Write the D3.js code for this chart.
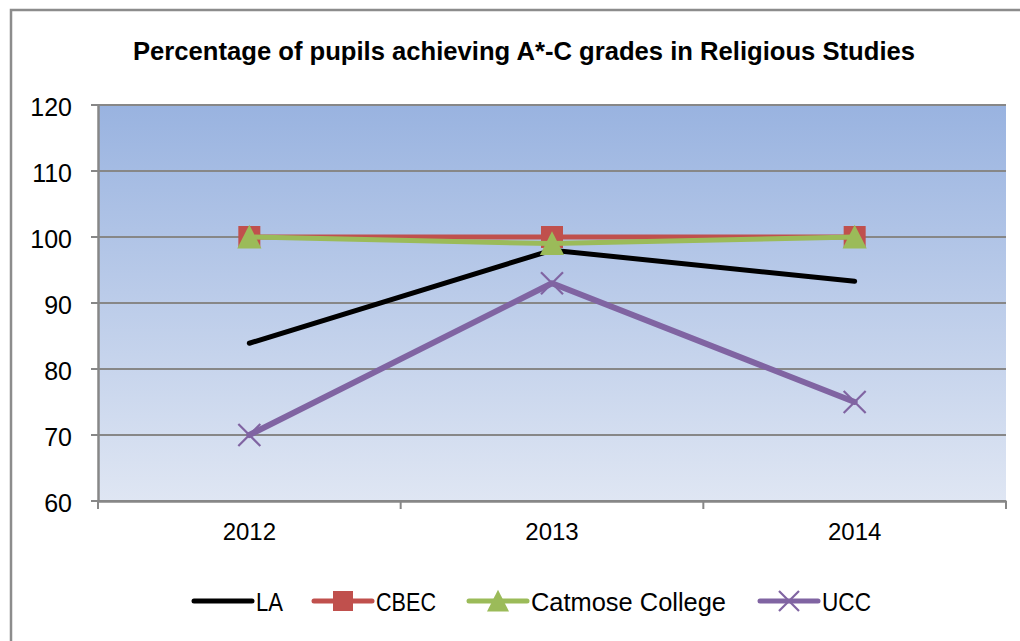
<!DOCTYPE html>
<html><head><meta charset="utf-8">
<script src="https://cdn.jsdelivr.net/npm/d3@7"></script>
<style>body{margin:0;background:#fff}svg{display:block}</style>
</head><body>
<svg id="c" width="1020" height="641"></svg>
<script>
const categories = ["2012", "2013", "2014"];
const seriesNames = ["LA", "CBEC", "Catmose College", "UCC"];
const LA = [83.9, 98, 93.3];
const CBEC = [100, 100, 100];
const Catmose = [100, 99, 100];
const UCC = [70, 93, 75];
const yTicks = [60, 70, 80, 90, 100, 110, 120];
const titleText = "Percentage of pupils achieving A*-C grades in Religious Studies";

const colors = ["#000000", "#c0504d", "#9bbb59", "#8064a2"];
const markers = ["none", "square", "triangle", "x"];
const series = [LA, CBEC, Catmose, UCC].map((v, i) => ({name: seriesNames[i], values: v, color: colors[i], marker: markers[i]}));

const font = "'Liberation Sans', Arial, sans-serif";
const svg = d3.select("#c");
const m = {left: 98, right: 1006, top: 105, bottom: 501};

// chart border
svg.append("rect").attr("x", 11).attr("y", 10).attr("width", 1030).attr("height", 650)
  .attr("fill", "#fff").attr("stroke", "#8c8c8c").attr("stroke-width", 2.5);

const defs = svg.append("defs");
const grad = defs.append("linearGradient").attr("id", "bg").attr("x1", 0).attr("y1", 0).attr("x2", 0).attr("y2", 1);
grad.append("stop").attr("offset", "0%").attr("stop-color", "#99b3e0");
grad.append("stop").attr("offset", "100%").attr("stop-color", "#dfe6f3");

const x = d3.scaleBand().domain(categories).range([m.left, m.right]);
const y = d3.scaleLinear().domain([60, 120]).range([m.bottom, m.top]);

svg.append("rect").attr("x", m.left).attr("y", m.top).attr("width", m.right - m.left).attr("height", m.bottom - m.top)
  .attr("fill", "url(#bg)");

// gridlines
svg.append("g").selectAll("line").data(yTicks).join("line")
  .attr("x1", m.left - 7).attr("x2", m.right)
  .attr("y1", d => y(d)).attr("y2", d => y(d))
  .attr("stroke", "#878787").attr("stroke-width", 2);

// y axis
const yAxis = svg.append("g").attr("transform", `translate(${m.left},0)`)
  .call(d3.axisLeft(y).tickValues(yTicks).tickSize(0).tickPadding(26));
yAxis.select(".domain").attr("stroke", "#878787").attr("stroke-width", 2.5);
yAxis.selectAll("text").attr("font-family", font).attr("font-size", 25).attr("fill", "#000").attr("dy", "0.42em");

// x axis
const xAxis = svg.append("g").attr("transform", `translate(0,${m.bottom})`)
  .call(d3.axisBottom(x).tickSize(0).tickPadding(32));
xAxis.select(".domain").attr("stroke", "#878787").attr("stroke-width", 2.5);
xAxis.selectAll("text").attr("font-family", font).attr("font-size", 24).attr("fill", "#000").attr("dy", "0.3em");
const bounds = [m.left, ...categories.map(c => x(c) + x.bandwidth())];
svg.append("g").selectAll("line").data(bounds).join("line")
  .attr("x1", d => d).attr("x2", d => d).attr("y1", m.bottom).attr("y2", m.bottom + 8)
  .attr("stroke", "#878787").attr("stroke-width", 2);

const cx = c => x(c) + x.bandwidth() / 2;
const line = d3.line().x((d, i) => cx(categories[i])).y(d => y(d));

function drawMarker(g, type, color, px, py, s) {
  if (type === "square") {
    g.append("rect").attr("x", px - s / 2).attr("y", py - s / 2).attr("width", s).attr("height", s).attr("fill", color);
  } else if (type === "triangle") {
    g.append("path").attr("d", `M${px},${py - s * 0.56}L${px + s * 0.55},${py + s * 0.52}L${px - s * 0.55},${py + s * 0.52}Z`).attr("fill", color);
  } else if (type === "x") {
    const h = s / 2;
    g.append("path").attr("d", `M${px - h},${py - h}L${px + h},${py + h}M${px - h},${py + h}L${px + h},${py - h}`)
      .attr("stroke", color).attr("stroke-width", 2.2).attr("fill", "none");
  }
}

const widths = [5, 5, 5, 6];
series.forEach((s, si) => {
  const g = svg.append("g");
  g.append("path").datum(s.values).attr("d", line).attr("fill", "none")
    .attr("stroke", s.color).attr("stroke-width", widths[si]).attr("stroke-linecap", "round").attr("stroke-linejoin", "round");
  s.values.forEach((v, i) => drawMarker(g, s.marker, s.color, cx(categories[i]), y(v), 22));
});

// title
svg.append("text").attr("x", 524).attr("y", 60).attr("text-anchor", "middle")
  .attr("font-family", font).attr("font-weight", "bold").attr("font-size", 25).attr("fill", "#000")
  .attr("textLength", 782).attr("lengthAdjust", "spacingAndGlyphs")
  .text(titleText);

// legend
const legendX = [194, 314, 469, 760];
const legendTextW = [27, 60, 195, 49];
const lg = svg.append("g");
series.forEach((s, i) => {
  const lx = legendX[i], ly = 601;
  lg.append("line").attr("x1", lx).attr("x2", lx + 58).attr("y1", ly).attr("y2", ly)
    .attr("stroke", s.color).attr("stroke-width", 5).attr("stroke-linecap", "round");
  drawMarker(lg, s.marker, s.color, lx + 29, ly, 20);
  lg.append("text").attr("x", lx + 62).attr("y", ly + 10).attr("font-family", font).attr("font-size", 26).attr("fill", "#000")
    .attr("textLength", legendTextW[i]).attr("lengthAdjust", "spacingAndGlyphs").text(s.name);
});
</script>
</body></html>
